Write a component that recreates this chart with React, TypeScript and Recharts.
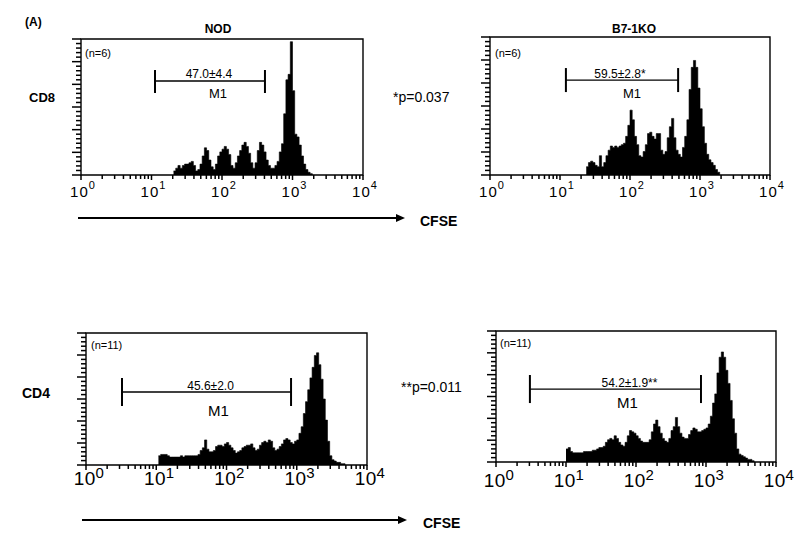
import React from 'react';
import { ComposedChart, Area, XAxis, YAxis, ReferenceArea, ReferenceLine, Label } from 'recharts';

const FONT = '"Liberation Sans", Arial, Helvetica, sans-serif';

// CFSE axis in channels: 32 channels per decade, 10^0 .. 10^4
const decadeTicks = [0, 32, 64, 96, 128];
const decadeExponents = ['0', '1', '2', '3', '4'];
const minorMultipliers = [2, 3, 4, 5, 6, 7, 8, 9];
const yTickSteps = 30; // 6 major intervals x 5 minor

// Histogram counts (% of full scale), one value per channel starting at *Start
const nodCd8Start = 42;
const nodCd8Counts = [
  3, 5, 7, 5, 7, 8, 8, 9, 10, 7,
  3, 4, 8, 14, 20, 18, 11, 6, 4, 8,
  14, 17, 19, 21, 19, 15, 7, 5, 9, 14,
  18, 22, 24, 21, 16, 9, 5, 9, 18, 24,
  22, 17, 11, 7, 5, 5, 7, 10, 17, 23,
  45, 70, 74, 98, 62, 30, 28, 22, 14, 8,
  4, 2, 1,
];

const b7Cd8Start = 44;
const b7Cd8Counts = [
  6, 9, 10, 9, 7, 6, 14, 6, 9, 14,
  18, 21, 20, 21, 20, 21, 22, 23, 28, 36,
  47, 40, 28, 22, 14, 13, 17, 22, 30, 31,
  28, 26, 30, 30, 18, 15, 17, 27, 35, 41,
  27, 18, 15, 13, 20, 28, 40, 62, 78, 83,
  78, 63, 48, 35, 23, 15, 11, 9, 7, 4,
  2,
];

const nodCd4Start = 33;
const nodCd4Counts = [
  7, 8, 8, 8, 7, 6, 6, 6, 6, 6,
  7, 6, 7, 7, 7, 7, 7, 7, 8, 11,
  13, 19, 12, 10, 10, 11, 14, 15, 15, 14,
  16, 17, 15, 13, 11, 9, 10, 11, 13, 14,
  15, 15, 16, 13, 11, 12, 15, 17, 18, 17,
  19, 18, 13, 11, 12, 14, 16, 19, 20, 19,
  17, 16, 18, 19, 24, 29, 39, 48, 57, 66,
  74, 83, 85, 76, 65, 50, 34, 18, 7, 4,
  3, 2, 2, 1, 1,
];

const b7Cd4Start = 32;
const b7Cd4Counts = [
  10, 11, 8, 7, 7, 7, 7, 7, 8, 8,
  8, 8, 9, 9, 10, 11, 11, 12, 15, 17,
  18, 17, 20, 18, 15, 13, 12, 15, 20, 24,
  23, 22, 20, 18, 16, 15, 15, 15, 17, 23,
  29, 32, 27, 22, 18, 16, 15, 18, 24, 27,
  34, 27, 22, 19, 18, 18, 21, 24, 26, 25,
  23, 23, 24, 25, 26, 29, 35, 45, 52, 68,
  80, 84, 80, 70, 60, 47, 33, 22, 10, 6,
  5, 4, 3, 2, 2, 1,
];

// M1 gates (channel bounds) and their labels
const nodCd8Gate = [33.6, 83.5];
const b7Cd8Gate = [34.7, 86.0];
const nodCd4Gate = [16.4, 93.4];
const b7Cd4Gate = [15.5, 93.7];
const gateLabels = ['47.0±4.4', '59.5±2.8*', '45.6±2.0', '54.2±1.9**'];
const nLabels = ['(n=6)', '(n=6)', '(n=11)', '(n=11)'];

const toSeries = (start: number, counts: number[]) => [
  ...counts.map((c, i) => ({ ch: start + i, c })),
  { ch: start + counts.length, c: 0 },
];

const minorTicks: number[] = [];
for (let d = 0; d < 4; d++) {
  minorMultipliers.forEach((k) => minorTicks.push(32 * (d + Math.log10(k))));
}
const allXTicks = [...decadeTicks, ...minorTicks].sort((a, b) => a - b);
const yTicks = Array.from({ length: yTickSteps + 1 }, (_, i) => (i * 100) / yTickSteps);

type Style = {
  fs: number; supFs: number; supDy: number; labelOffset: number; ls: number; labelDx: number;
};

const makeXLabel = (st: Style) => (props: any) => {
  const x = Number(props.x);
  const y = Number(props.y);
  const idx = decadeTicks.indexOf(props.payload?.value);
  if (idx < 0) return <g />;
  return (
    <text
      x={x + st.labelDx}
      y={y + st.labelOffset}
      textAnchor="middle"
      fontFamily={FONT}
      fontSize={st.fs}
      letterSpacing={st.ls}
      fill="#000"
    >
      10
      <tspan dy={st.supDy} fontSize={st.supFs}>
        {decadeExponents[idx]}
      </tspan>
    </text>
  );
};

const upperStyle: Style = { fs: 15, supFs: 11, supDy: -8, labelOffset: 22, ls: 1, labelDx: 2 };
const lowerStyleA: Style = { fs: 19, supFs: 15, supDy: -7, labelOffset: 20, ls: 0.3, labelDx: 3 };
const lowerStyleB: Style = { fs: 19, supFs: 15, supDy: -7, labelOffset: 25, ls: 0.3, labelDx: 3 };

const panels = [
  {
    id: 'nodCd8', data: toSeries(nodCd8Start, nodCd8Counts), gate: nodCd8Gate, label: gateLabels[0],
    box: { left: 81, top: 39, w: 282, h: 136 }, gateY: 69.1, cap: [60.3, 77.2],
    st: upperStyle, labFs: 12, labOff: 3, labDx: -1, m1Fs: 13, m1Off: 8, m1Dx: 8,
  },
  {
    id: 'b7Cd8', data: toSeries(b7Cd8Start, b7Cd8Counts), gate: b7Cd8Gate, label: gateLabels[1],
    box: { left: 490, top: 37, w: 280, h: 138 }, gateY: 68.8, cap: [60.1, 77.5],
    st: upperStyle, labFs: 12, labOff: 2, labDx: -2, m1Fs: 13, m1Off: 9, m1Dx: 10,
  },
  {
    id: 'nodCd4', data: toSeries(nodCd4Start, nodCd4Counts), gate: nodCd4Gate, label: gateLabels[2],
    box: { left: 86, top: 333, w: 281, h: 132 }, gateY: 55.3, cap: [44.7, 65.9],
    st: lowerStyleA, labFs: 12, labOff: 2, labDx: 4, m1Fs: 15, m1Off: 13, m1Dx: 12,
  },
  {
    id: 'b7Cd4', data: toSeries(b7Cd4Start, b7Cd4Counts), gate: b7Cd4Gate, label: gateLabels[3],
    box: { left: 496, top: 331, w: 280, h: 131 }, gateY: 55.7, cap: [45.0, 66.4],
    st: lowerStyleB, labFs: 12, labOff: 2, labDx: 14, m1Fs: 15, m1Off: 8, m1Dx: 12,
  },
];

// tick mark lengths in px
const Y_MAJOR = 9;
const Y_MINOR = 5;
const X_MAJOR = 5;
const X_MINOR = 4;
const TICK_COLOR = '#000';

const Panel = ({ p }: { p: (typeof panels)[number] }) => {
  const W = p.box.w + 50;
  const H = p.box.h + 50;
  return (
    <div style={{ position: 'absolute', left: p.box.left - 30, top: p.box.top - 10, width: W, height: H }}>
      <ComposedChart width={W} height={H} data={p.data} margin={{ top: 10, right: 20, left: 0, bottom: 0 }}>
        <XAxis
          dataKey="ch"
          type="number"
          domain={[0, 128]}
          allowDataOverflow
          ticks={decadeTicks}
          interval={0}
          tickSize={0}
          tickMargin={0}
          tickLine={false}
          axisLine={false}
          height={40}
          tick={makeXLabel(p.st)}
        />
        <YAxis
          type="number"
          domain={[0, 100]}
          allowDataOverflow
          ticks={[0]}
          tick={false}
          tickLine={false}
          axisLine={false}
          width={30}
        />
        <Area
          type="stepAfter"
          dataKey="c"
          stroke="#000"
          strokeWidth={0.6}
          fill="#000"
          fillOpacity={1}
          dot={false}
          activeDot={false}
          isAnimationActive={false}
        />
        <ReferenceArea x1={0} x2={128} y1={0} y2={100} fill="none" stroke="#000" strokeWidth={1.4} ifOverflow="visible" />
        <ReferenceLine
          segment={[{ x: p.gate[0], y: p.gateY }, { x: p.gate[1], y: p.gateY }]}
          stroke="#000"
          strokeWidth={1.3}
          ifOverflow="visible"
        >
          <Label value={p.label} position="top" offset={p.labOff} dx={p.labDx} fontSize={p.labFs} fontFamily={FONT} fill="#000" />
          <Label value="M1" position="bottom" offset={p.m1Off} dx={p.m1Dx} fontSize={p.m1Fs} fontFamily={FONT} fill="#000" />
        </ReferenceLine>
        <ReferenceLine
          segment={[{ x: p.gate[0], y: p.cap[0] }, { x: p.gate[0], y: p.cap[1] }]}
          stroke="#000"
          strokeWidth={2}
          ifOverflow="visible"
        />
        <ReferenceLine
          segment={[{ x: p.gate[1], y: p.cap[0] }, { x: p.gate[1], y: p.cap[1] }]}
          stroke="#000"
          strokeWidth={2}
          ifOverflow="visible"
        />
      </ComposedChart>
    </div>
  );
};

// axis tick combs (log minor ticks on x, linear comb on y)
const AxisTicks = ({ box }: { box: { left: number; top: number; w: number; h: number } }) => {
  const bottom = box.top + box.h;
  return (
    <g stroke={TICK_COLOR} strokeWidth={1.5}>
      {yTicks.map((v, i) => {
        const y = bottom - (v / 100) * box.h;
        return <line key={`sy${i}`} x1={box.left - (i % 5 === 0 ? Y_MAJOR : Y_MINOR)} x2={box.left} y1={y} y2={y} />;
      })}
      {allXTicks.map((t, i) => {
        const x = box.left + (t / 128) * box.w;
        return <line key={`sx${i}`} x1={x} x2={x} y1={bottom} y2={bottom + (decadeTicks.includes(t) ? X_MAJOR : X_MINOR)} />;
      })}
    </g>
  );
};

const Arrow = ({ x1, x2, y }: { x1: number; x2: number; y: number }) => (
  <g>
    <line x1={x1} x2={x2 - 6} y1={y} y2={y} stroke="#000" strokeWidth={2} />
    <polygon points={`${x2},${y} ${x2 - 9},${y - 4} ${x2 - 9},${y + 4}`} fill="#000" />
  </g>
);

export default function App() {
  return (
    <div style={{ position: 'absolute', left: 0, top: 0, width: 800, height: 545, background: '#fff', overflow: 'hidden' }}>
      {panels.map((p) => (
        <Panel key={p.id} p={p} />
      ))}
      <svg width={800} height={545} style={{ position: 'absolute', left: 0, top: 0, pointerEvents: 'none' }} fontFamily={FONT}>
        {panels.map((p) => (
          <AxisTicks key={`t-${p.id}`} box={p.box} />
        ))}
        <text x={25} y={26} fontSize={12} fontWeight="bold">(A)</text>
        <text x={218} y={33} fontSize={12} fontWeight="bold" textAnchor="middle">NOD</text>
        <text x={634} y={33} fontSize={12} fontWeight="bold" textAnchor="middle">B7-1KO</text>
        <text x={29} y={102} fontSize={13} fontWeight="bold">CD8</text>
        <text x={22} y={398} fontSize={14} fontWeight="bold">CD4</text>
        <text x={393} y={102} fontSize={14}>*p=0.037</text>
        <text x={401} y={392} fontSize={14}>**p=0.011</text>
        <text x={85} y={57} fontSize={11}>{nLabels[0]}</text>
        <text x={495} y={57} fontSize={11}>{nLabels[1]}</text>
        <text x={91} y={349} fontSize={11}>{nLabels[2]}</text>
        <text x={500} y={347} fontSize={11}>{nLabels[3]}</text>
        <Arrow x1={78} x2={405} y={218} />
        <text x={420} y={226} fontSize={14} fontWeight="bold">CFSE</text>
        <Arrow x1={82} x2={407} y={520} />
        <text x={423} y={528} fontSize={14} fontWeight="bold">CFSE</text>
      </svg>
    </div>
  );
}
